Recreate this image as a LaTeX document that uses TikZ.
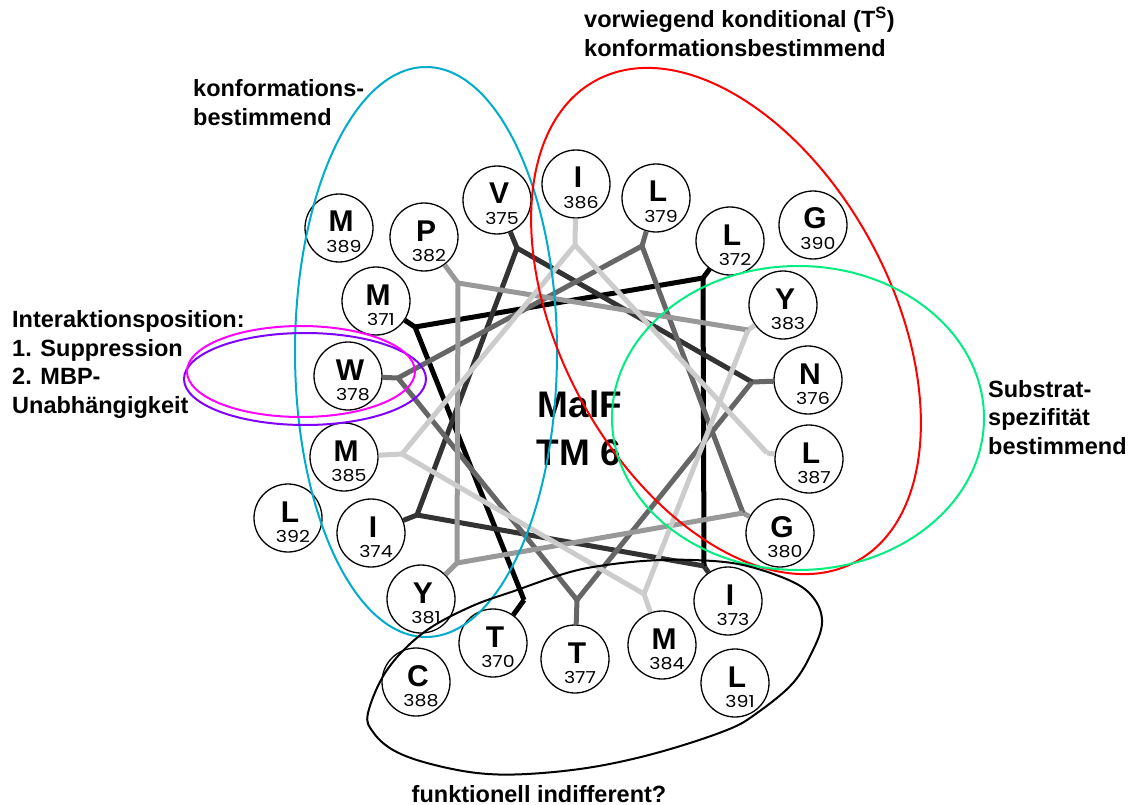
\documentclass[tikz,border=0pt]{standalone}
\usepackage{fontspec}
\setmainfont{Liberation Sans}
\newfontfamily\numfont[FakeStretch=1.15]{Poppins}
\definecolor{ecyan}{RGB}{0,172,204}
\definecolor{ered}{RGB}{255,0,0}
\definecolor{egreen}{RGB}{0,238,128}
\definecolor{emagenta}{RGB}{255,0,255}
\definecolor{epurple}{RGB}{128,0,255}
\tikzset{
  res/.style={circle, draw, line width=1.3pt, fill=white, minimum size=68pt, inner sep=0pt},
  lettr/.style={font=\fontsize{30}{30}\selectfont\bfseries, anchor=base, inner sep=0pt},
  numtxt/.style={font=\fontsize{16.5}{16.5}\selectfont\numfont, anchor=base, inner sep=0pt},
  lbl/.style={font=\fontsize{23.5}{28}\selectfont\bfseries, anchor=base west, inner sep=0pt},
  bond/.style={line width=5pt},
  s0/.style={bond, draw=black},
  s1/.style={bond, draw=black!80},
  s2/.style={bond, draw=black!60},
  s3/.style={bond, draw=black!40},
  s4/.style={bond, draw=black!20},
  region/.style={line width=2pt},
}
% one residue: circle, one-letter code and sequence number
\newcommand\resnode[4]{%
  \node[res] (r#1) at (#2,#3) {};
  \node[lettr] (l#1) at ([shift={(2,4)}]r#1.center) {#4};
  \node[numtxt] (n#1) at ([shift={(5,24.5)}]r#1.center) {#1};
}
\begin{document}
\begin{tikzpicture}[x=1pt, y=-1pt]
\useasboundingbox (0,0) rectangle (1135,805);

% bend points of the helical wheel
\coordinate (b370) at (524,600);
\coordinate (b371) at (415,327);
\coordinate (b372) at (703,278);
\coordinate (b373) at (704,566);
\coordinate (b374) at (417,515);
\coordinate (b375) at (517,248);
\coordinate (b376) at (752,382);
\coordinate (b377) at (577,600);
\coordinate (b378) at (398,378);
\coordinate (b379) at (642,246);
\coordinate (b380) at (743,513);
\coordinate (b381) at (457,563);
\coordinate (b382) at (458,283);
\coordinate (b383) at (748,330);
\coordinate (b384) at (644,594);
\coordinate (b385) at (402,454);
\coordinate (b386) at (575,245);
\coordinate (b387) at (767,453);

% residues
\resnode{370}{493}{643}{T}
\resnode{371}{376}{301}{M}
\resnode{372}{730}{241}{L}
\resnode{373}{728}{601}{I}
\resnode{374}{371}{533}{I}
\resnode{375}{497}{200}{V}
\resnode{376}{808}{380}{N}
\resnode{377}{575}{659}{T}
\resnode{378}{348}{376}{W}
\resnode{379}{656}{198}{L}
\resnode{380}{780}{533}{G}
\resnode{381}{421}{599}{Y}
\resnode{382}{424}{237}{P}
\resnode{383}{783}{305}{Y}
\resnode{384}{662}{645}{M}
\resnode{385}{344}{457}{M}
\resnode{386}{576}{184}{I}
\resnode{387}{809}{459}{L}
\resnode{388}{416}{682}{C}
\resnode{389}{339}{228}{M}
\resnode{390}{813}{225}{G}
\resnode{391}{735}{683}{L}
\resnode{392}{288}{518}{L}

% stubs from each residue to its bend point
\draw[s0] (r370) -- (b370);
\draw[s0] (r371) -- (b371);
\draw[s0] (r372) -- (b372);
\draw[s1] (r373) -- (b373);
\draw[s1] (r374) -- (b374);
\draw[s1] (r375) -- (b375);
\draw[s2] (r376) -- (b376);
\draw[s2] (r377) -- (b377);
\draw[s2] (r378) -- (b378);
\draw[s2] (r379) -- (b379);
\draw[s3] (r380) -- (b380);
\draw[s3] (r381) -- (b381);
\draw[s3] (r382) -- (b382);
\draw[s4] (r383) -- (b383);
\draw[s4] (r384) -- (b384);
\draw[s4] (r385) -- (b385);
\draw[s4] (r386) -- (b386);
\draw[s4] (r387) -- (b387);

% backbone of the wheel, darkest first
\draw[s0] (b370) -- (b371);
\draw[s0] (b371) -- (b372);
\draw[s0] (b372) -- (b373);
\draw[s1] (b373) -- (b374);
\draw[s1] (b374) -- (b375);
\draw[s1] (b375) -- (b376);
\draw[s2] (b376) -- (b377);
\draw[s2] (b377) -- (b378);
\draw[s2] (b378) -- (b379);
\draw[s2] (b379) -- (b380);
\draw[s3] (b380) -- (b381);
\draw[s3] (b381) -- (b382);
\draw[s3] (b382) -- (b383);
\draw[s4] (b383) -- (b384);
\draw[s4] (b384) -- (b385);
\draw[s4] (b385) -- (b386);
\draw[s4] (b386) -- (b387);

% centre label
\node[font=\fontsize{37}{37}\selectfont\bfseries, anchor=base, inner sep=0pt] (tm1) at (580,417) {MalF};
\node[font=\fontsize{37}{37}\selectfont\bfseries, anchor=base, inner sep=0pt] (tm2) at (579,465) {TM 6};

% functional regions
\draw[region, ecyan] (426,352) ellipse [x radius=131, y radius=285];
\draw[region, ered, rotate around={-61.6:(726,321)}] (726,321) ellipse [x radius=273.5, y radius=165];
\draw[region, egreen] (798,418) ellipse [x radius=186, y radius=152];
\draw[region, epurple] (305,379) ellipse [x radius=121, y radius=46];
\draw[region, emagenta] (301,371.5) ellipse [x radius=114, y radius=45.5];
\draw[region, black] plot[smooth cycle, tension=0.6] coordinates {
  (560,575) (517,590) (470,607) (423,633) (387,670) (368,713) (373,732)
  (393,750) (427,763) (477,773) (527,774) (593,767) (660,752) (727,730)
  (757,713) (793,683) (813,650) (822,623) (815,600) (793,582) (743,565)
  (693,560) (643,561) (593,567)};

% annotations
\node[lbl] (k1) at (193,97) {konformations-};
\node[lbl] (k2) at (193,126) {bestimmend};
\node[lbl] (v1) at (584,28) {vorwiegend konditional (T\textsuperscript{S})};
\node[lbl] (v2) at (584,57) {konformationsbestimmend};
\node[lbl] (i1) at (12,327) {Interaktionsposition:};
\node[lbl] (i2) at (12,356) {1. Suppression};
\node[lbl] (i3) at (12,384) {2. MBP-};
\node[lbl] (i4) at (12,413) {Unabhängigkeit};
\node[lbl] (s1) at (988,397) {Substrat-};
\node[lbl] (s2) at (988,425) {spezifität};
\node[lbl] (s3) at (988,454) {bestimmend};
\node[lbl, anchor=base] (f1) at (539,802) {funktionell indifferent?};
\end{tikzpicture}
\end{document}
